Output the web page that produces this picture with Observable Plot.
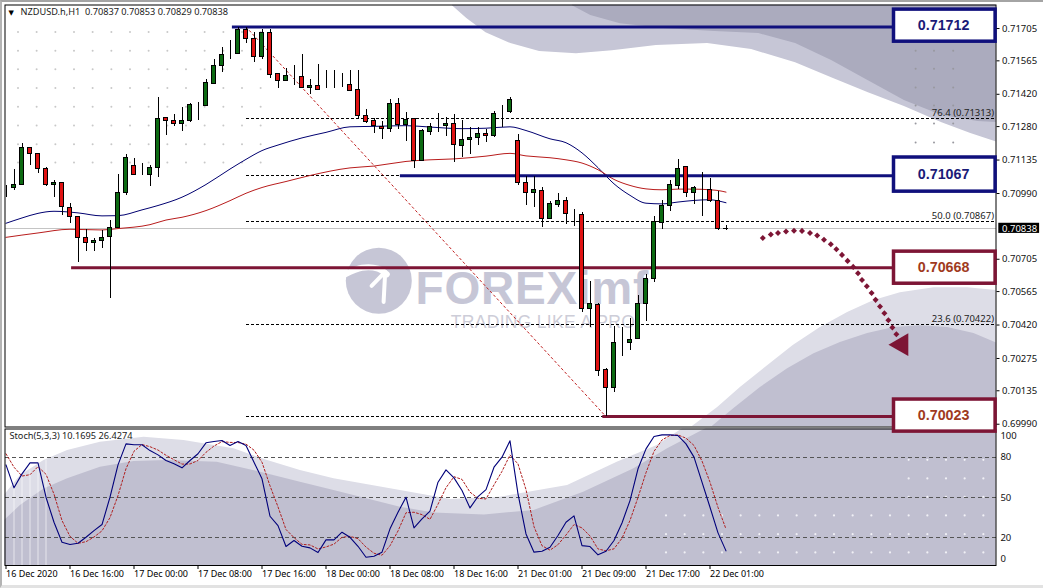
<!DOCTYPE html>
<html><head><meta charset="utf-8">
<style>
html,body{margin:0;padding:0;background:#fff;overflow:hidden}
#page{position:relative;width:1043px;height:588px;overflow:hidden;background:#fff}
#page svg{position:absolute;left:0;top:0;background:transparent;overflow:visible}
#chrome{position:absolute;left:0;top:0;width:1043px;height:588px;box-sizing:border-box;border-top:2px solid #a4a4a4;border-left:2px solid #b4b4b4;border-bottom:3px solid #e2e2e2}
.wm text{letter-spacing:0.75px}
.wm2 text{letter-spacing:0.3px}
</style>
<script src="https://cdn.jsdelivr.net/npm/d3@7"></script>
<script src="https://cdn.jsdelivr.net/npm/@observablehq/plot@0.6"></script>
</head><body><div id="page"><div id="chrome"></div></div>
<script>
// Prices are in units of 0.00001
const opens=[71013,71013,71026,71187,71161,71096,71027,71036,70927,70888,70797,70776,70783,70800,70839,70991,71109,71073,71069,71101,71317,71304,71290,71304,71371,71368,71465,71543,71593,71595,71699,71660,71580,71686,71507,71478,71497,71495,71446,71456,71458,71453,71459,71459,71440,71327,71305,71278,71270,71379,71286,71311,71133,71256,71292,71281,71292,71197,71223,71231,71249,71240,71341,71343,71218,71036,70993,71002,70880,70940,70958,70901,70898,70490,70508,70226,70148,70343,70342,70359,70512,70619,70863,70937,71023,71106,70992,71013,71006,70957,70837];
const highs=[71024,71096,71205,71190,71164,71104,71046,71036,70945,70888,70835,70793,70829,70873,71072,71161,71140,71122,71111,71404,71320,71332,71361,71378,71385,71482,71569,71621,71653,71710,71710,71686,71699,71699,71507,71530,71544,71591,71485,71549,71523,71523,71512,71523,71523,71353,71314,71301,71398,71400,71340,71314,71268,71295,71335,71321,71331,71307,71278,71275,71268,71344,71372,71405,71244,71065,71065,71015,70956,70989,70971,70919,70909,70609,70512,70230,70414,70411,70448,70548,70638,70891,70960,71047,71138,71107,71021,71080,71055,71000,70853];
const lows=[70971,71005,71023,71112,71075,71021,70971,70896,70861,70692,70740,70740,70751,70536,70839,70981,71069,71069,71021,71060,71242,71281,71260,71299,71306,71368,71465,71515,71569,71595,71642,71559,71569,71489,71446,71478,71460,71443,71419,71439,71447,71447,71450,71432,71310,71292,71252,71226,71256,71269,71217,71100,71129,71242,71256,71239,71126,71148,71159,71198,71213,71234,71278,71335,71023,70938,70931,70841,70880,70931,70857,70849,70473,70411,70199,70023,70129,70285,70311,70359,70437,70606,70836,70914,71008,70974,70943,70891,70953,70830,70829];
const closes=[71013,71027,71187,71161,71096,71026,71036,70930,70887,70797,70776,70786,70797,70839,70992,71144,71069,71073,71101,71313,71304,71290,71304,71374,71371,71469,71543,71591,71593,71699,71660,71580,71686,71504,71478,71499,71497,71446,71456,71439,71458,71453,71459,71436,71325,71301,71281,71269,71379,71286,71310,71129,71259,71278,71292,71292,71201,71223,71231,71249,71240,71335,71341,71396,71036,70993,71006,70880,70945,70958,70901,70901,70490,70512,70220,70148,70343,70343,70356,70512,70620,70865,70937,71026,71097,70993,71015,71013,70958,70836,70838];

const maBlueBars=[0,2,4,6,9,12,14,17,19,22,25,28,30,32,34,37,40,43,46,50,53,57,60,63,65,68,70,72,74,76,78,80,82,84,86,88,89,90];
const maBlueVals=[70861,70884,70904,70913,70906,70893,70894,70919,70938,70974,71029,71096,71138,71176,71200,71231,71255,71279,71281,71284,71278,71271,71273,71279,71263,71227,71210,71166,71102,71032,70982,70948,70945,70953,70960,70963,70958,70950];
const maRedBars=[0,4,8,12,14,18,20,22,25,28,30,32,35,38,43,46,50,53,56,60,63,65,68,70,72,74,76,78,80,82,84,86,88,89,90];
const maRedVals=[70800,70819,70835,70832,70838,70855,70875,70887,70916,70959,70991,71016,71042,71068,71101,71109,71129,71136,71140,71152,71164,71153,71145,71136,71122,71093,71051,71025,71010,71006,71009,71009,71006,71003,70996];

const stochK=[74.3,57.2,67.6,75.8,75.8,50.2,31.5,16.6,14.9,15.9,20.3,25.3,29.8,50.2,74.3,90.0,89.3,89.3,85.0,81.8,77.6,75.1,72.1,77.6,82.6,90.8,91.8,92.5,88.8,91.8,88.8,76.3,63.9,36.0,29.0,13.4,17.9,13.6,12.4,8.9,18.4,18.4,24.1,20.3,13.6,5.4,6.2,9.2,26.6,39.0,50.2,27.3,34.0,39.8,61.4,70.6,64.6,55.2,42.2,50.7,55.9,72.6,80.1,92.3,52.7,22.8,9.2,9.9,12.9,21.6,31.5,36.3,14.1,13.4,7.2,9.9,17.9,31.0,47.7,71.4,86.3,95.5,96.7,96.7,96.2,90.0,80.1,61.4,42.7,23.6,10.17];
const stochD=[82.6,72.6,66.0,67.0,73.0,67.3,52.5,32.8,21.0,15.8,17.0,20.5,25.1,35.0,51.4,71.5,84.5,89.5,87.9,85.4,81.5,78.2,74.9,75.0,77.6,83.7,88.4,91.7,91.1,91.0,89.8,85.3,76.3,58.7,43.0,26.1,20.1,15.0,14.6,11.6,13.1,15.2,20.3,21.0,19.3,13.0,8.4,6.9,14.0,25.0,38.6,39.0,37.2,33.7,45.0,57.3,65.5,63.5,54.0,49.4,48.9,59.4,69.5,81.7,75.0,55.9,28.2,14.0,10.7,14.8,22.0,29.8,27.3,21.3,11.6,10.2,11.7,19.6,32.9,50.0,68.5,84.4,92.9,96.3,96.6,94.3,88.8,77.2,61.4,42.6,26.43];

const priceTicks=[71705,71565,71420,71280,71135,70990,70705,70565,70420,70275,70135,69990];
const timeBars=[0,8,16,24,32,40,48,56,64,72,80,88];
const timeLabels=["16 Dec 2020","16 Dec 16:00","17 Dec 00:00","17 Dec 08:00","17 Dec 16:00","18 Dec 00:00","18 Dec 08:00","18 Dec 16:00","21 Dec 01:00","21 Dec 09:00","21 Dec 17:00","22 Dec 01:00"];

const levelPrices=[71712,71067,70668,70023];
const levelStarts=[28.3,49.3,8.2,74.6];
const levelLabels=["0.71712","0.71067","0.70668","0.70023"];
const levelColors=["#10107c","#10107c","#7d1535","#7d1535"];
const levelText=["#1a1a78","#1a1a78","#a03a1e","#a03a1e"];
const boxTops=[71787,71146,70738,70097];
const boxBottoms=[71648,70998,70599,69958];

const fibPrices=[71313,71067,70867,70422,70023];
const fibEnds=[123.75,49.3,123.75,123.75,75];
const fibLabels=["76.4 (0.71313)","50.0 (0.70867)","23.6 (0.70422)"];
const fibLabelPrices=[71313,70867,70422];

// watermark swooshes
const topLightBars=[55.8,57.6,60,63.1,66.7,71.3,75.8,81.3,87.7,93.2,98.7,103.2,107.8,112.3,117,120.6,124];
const topLightEdge=[71804,71748,71687,71640,71605,71596,71609,71631,71640,71614,71557,71492,71427,71367,71297,71250,71211];
const topDarkBars=[70.8,73.1,76.8,82.2,88.6,94.1,98.7,103.2,107.8,112.3,117,121.5,124];
const topDarkEdge=[71804,71761,71726,71705,71692,71683,71640,71566,71479,71393,71328,71302,71297];
const lowLightBars=[85.6,88.96,91.8,95.2,98.4,101.8,105.2,108.5,111.8,116,120.2,124];
const lowLightEdge=[69975,70062,70149,70244,70331,70409,70474,70526,70560,70582,70582,70569];
const lowDarkBars=[88.1,91,94.3,97.7,101,104.3,107.7,111,114.3,117.7,121,124];
const lowDarkEdge=[69975,70058,70149,70231,70296,70344,70383,70409,70417,70409,70383,70339];
const stLightBars=[-0.2,1.8,4.75,7.7,11.8,17.25,22.25,28.5,32.7,36.8,41,49.3,55.6,61.8,70.2,76.4,81.4,84.75,124];
const stLightEdge=[51.5,66.4,77.6,85,91.3,95,92.5,86.3,77.6,70.1,63.9,55.2,48.5,50.2,58.9,76.3,88.8,102,102];
const stDarkBars=[-0.2,1.8,4.75,7.7,11.8,16,20.2,26.4,32.7,36.8,41,49.3,53.5,59.8,66,72.2,78.5,82.7,87.7,124];
const stDarkEdge=[32.8,44,56.4,63.9,72.6,76.8,77.6,76.3,67.6,61.4,55.2,42.7,38.5,37,40.3,53.9,71.4,86.3,102,102];
const stripeBars=[1,2,3,4,5];
const stripeTops=[60,66,70,75,78];

// dot grids
const dotsLeftBars=[1.5,3.83,6.17,8.5,10.83,13.17,15.5,17.83,20.17,22.5,24.83,27.17,29.5,31.83];
const dotsLeftRows=[71690,71609,71528,71447,71366,71285,71204,71124];
const dotsRightBars=[113.7,116,118.4];
const dotsRightRows=[71609,71531,71449,71371,71293,71211];
const stDotBars=[82.5,84.83,87.17,89.5,91.83,94.17,96.5,98.83,101.17,103.5,105.83,108.17,110.5,112.83,115.17,117.5,119.83,122.17];
const stDotRows=[36.6,22.6,9];
const stDotBarsUpper=[112.83,115.17,117.5,119.83,122.17];
const stDotRowsUpper=[78.1,64.2,50.5];

// forecast arrow
const arrowBars=[94.6,95.6,96.5,97.5,98.5,99.5,100.5,101.4,102.25,103.1,103.8,104.5,105.2,105.9,106.5,107,107.6,108.2,108.7,109.25,109.8,110.3,110.8,111.3];
const arrowPrices=[70797,70812,70819,70825,70829,70828,70819,70808,70790,70770,70748,70724,70698,70672,70644,70615,70588,70559,70529,70500,70471,70441,70409,70380];

const FONT="'Noto Sans',sans-serif";
const W=1043,H=588;
const XD=[-0.125,123.75];
const candles=opens.map((o,i)=>({i,o,h:highs[i],l:lows[i],c:closes[i]}));
const zip=(xs,ys)=>xs.map((x,k)=>({x,y:ys[k]}));
const GREEN="#0c6a12",RED="#e01212";
const candleFill=d=>Math.abs(d.c-d.o)<=1?"#000":(d.c>d.o?GREEN:RED);
const fiveDec=v=>(v/1e5).toFixed(5);

const main=Plot.plot({
  width:W,height:H,marginLeft:4.5,marginRight:W-995.5,marginTop:4.5,marginBottom:H-426.5,
  style:{background:"transparent",fontFamily:FONT},
  x:{domain:XD,axis:null},
  y:{domain:[69978,71807],axis:null},
  marks:[
    Plot.area(zip(topLightBars,topLightEdge),{x1:"x",y1:71807,y2:"y",fill:"#c6c6d6",clip:true}),
    Plot.area(zip(topDarkBars,topDarkEdge),{x1:"x",y1:71807,y2:"y",fill:"#ababbe",clip:true}),
    Plot.area(zip(lowLightBars,lowLightEdge),{x1:"x",y1:69978,y2:"y",fill:"#dddde7",clip:true}),
    Plot.area(zip(lowDarkBars,lowDarkEdge),{x1:"x",y1:69978,y2:"y",fill:"#c0bfd0",clip:true}),
    Plot.dot(d3.cross(dotsLeftBars,dotsLeftRows),{x:"0",y:"1",r:1,fill:"#c8c8c8"}),
    Plot.dot(d3.cross(dotsRightBars,dotsRightRows),{x:"0",y:"1",r:1,fill:"#98989f"}),
    // watermark
    Plot.dot([{x:46.6,y:70612}],{x:"x",y:"y",r:33,fill:"#c6c6d6"}),
    Plot.line(zip([42.4,44.5,46.5,47.6],[70640,70668,70664,70640]),{x:"x",y:"y",stroke:"#fff",strokeWidth:6,curve:"catmull-rom"}),
    Plot.line(zip([45.7,47.4,47.2],[70590,70650,70520]),{x:"x",y:"y",stroke:"#fff",strokeWidth:4}),
    Plot.text(["FOREXimf"],{x:[51.2],y:[70513],text:d=>d,textAnchor:"start",lineAnchor:"bottom",fontSize:46,fontWeight:"bold",fontFamily:"'Liberation Sans'",fill:"#c6c6d6",className:"wm"}),
    Plot.text(["TRADING LIKE A PRO"],{x:[55.6],y:[70405],text:d=>d,textAnchor:"start",lineAnchor:"bottom",fontSize:17.5,fontFamily:"'Liberation Sans'",fill:"#cdcdd8",className:"wm2"}),
    // current price line
    Plot.ruleY([70838],{stroke:"#c4c4c4",strokeWidth:1,shapeRendering:"crispEdges"}),
    // fibonacci levels
    Plot.ruleY(fibPrices.map((p,k)=>({p,e:fibEnds[k]})),{y:"p",x1:30,x2:"e",stroke:"#000",strokeWidth:1,strokeDasharray:"3,2",shapeRendering:"crispEdges"}),
    Plot.text(fibLabels,{x:fibLabels.map(()=>123.5),y:fibLabelPrices,text:d=>d,textAnchor:"end",dy:-6,fontSize:9.5,fill:"#222"}),
    // fibonacci trend line
    Plot.line(zip([30,75],[71712,70023]),{x:"x",y:"y",stroke:"#c02020",strokeWidth:1,strokeDasharray:"2,3"}),
    // moving averages
    Plot.line(zip(maBlueBars,maBlueVals),{x:"x",y:"y",stroke:"#000070",strokeWidth:1,curve:"monotone-x",clip:true}),
    Plot.line(zip(maRedBars,maRedVals),{x:"x",y:"y",stroke:"#b81c1c",strokeWidth:1,curve:"monotone-x",clip:true}),
    // horizontal levels
    Plot.ruleY(levelPrices.map((p,k)=>({p,s:levelStarts[k],c:levelColors[k]})),{y:"p",x1:"s",x2:111,stroke:"c",strokeWidth:3}),
    // candles
    Plot.ruleX(candles,{x:"i",y1:"l",y2:"h",stroke:"#000",strokeWidth:1,clip:true,shapeRendering:"crispEdges"}),
    Plot.rect(candles,{x1:d=>d.i-0.25,x2:d=>d.i+0.25,y1:"o",y2:"c",fill:candleFill,stroke:"#000",strokeWidth:1,clip:true,shapeRendering:"crispEdges"}),
    // arrow
    Plot.dot(zip(arrowBars,arrowPrices),{x:"x",y:"y",r:2.4,symbol:"square",fill:"#7d1535",rotate:45}),
    Plot.dot([{x:111.96,y:70335}],{x:"x",y:"y",r:8.5,symbol:"triangle",rotate:-90,fill:"#7d1535"}),
    Plot.frame({stroke:"#000",strokeWidth:1}),
    // level boxes
    Plot.rect(levelPrices.map((p,k)=>({t:boxTops[k],b:boxBottoms[k],c:levelColors[k]})),{x1:111,x2:123.7,y1:"b",y2:"t",fill:"#fff",stroke:"c",strokeWidth:3.5}),
    Plot.text(levelLabels,{x:levelLabels.map(()=>117.2),y:levelPrices.map((p,k)=>(boxTops[k]+boxBottoms[k])/2),text:d=>d,fontSize:14.3,fontWeight:"bold",fontFamily:"'Liberation Sans'",fill:(d,k)=>levelText[k]}),
    // price axis
    Plot.axisY(priceTicks,{anchor:"right",tickSize:3,tickPadding:3,fontSize:9.5,tickFormat:fiveDec,label:null,fill:"#111",color:"#000"}),
    Plot.rect([{a:70861,b:70817}],{x1:124.1,x2:129.2,y1:"b",y2:"a",fill:"#000"}),
    Plot.text(["0.70838"],{x:[124.5],y:[70838],text:d=>d,textAnchor:"start",fontSize:9.5,fill:"#fff"}),
    // header
    Plot.text(["▼"],{frameAnchor:"top-left",dx:3.5,dy:5,fontSize:7,fill:"#000",text:d=>d,fontFamily:"'DejaVu Sans'"}),
    Plot.text(["NZDUSD.h,H1  0.70837 0.70853 0.70829 0.70838"],{frameAnchor:"top-left",dx:15.5,dy:3,text:d=>d,fontSize:9.2,fill:"#222"})
  ]
});

const stoch=Plot.plot({
  width:W,height:H,marginLeft:4.5,marginRight:W-995.5,marginTop:428.5,marginBottom:H-565,
  style:{background:"transparent",fontFamily:FONT},
  x:{domain:XD,axis:null},
  y:{domain:[-0.75,101.1],axis:null},
  marks:[
    Plot.area(zip(stLightBars,stLightEdge),{x1:"x",y1:-0.75,y2:"y",fill:"#dddde7",clip:true}),
    Plot.area(zip(stDarkBars,stDarkEdge),{x1:"x",y1:-0.75,y2:"y",fill:"#c0bfd0",clip:true}),
    Plot.ruleX(stripeBars.map((b,k)=>({b,t:stripeTops[k]})),{x:"b",y1:-0.75,y2:"t",stroke:"#fff",strokeOpacity:0.6,strokeWidth:1}),
    Plot.dot(d3.cross(stDotBars,stDotRows),{x:"0",y:"1",r:1.1,fill:"#f0f0f5"}),
    Plot.dot(d3.cross(stDotBarsUpper,stDotRowsUpper),{x:"0",y:"1",r:1.1,fill:"#f0f0f5"}),
    Plot.ruleY([80,50,20],{stroke:"#555",strokeWidth:1,strokeDasharray:"4,3",shapeRendering:"crispEdges"}),
    Plot.line(stochD.map((v,i)=>({i,v})),{x:"i",y:"v",stroke:"#b02020",strokeWidth:1,strokeDasharray:"2,2"}),
    Plot.line(stochK.map((v,i)=>({i,v})),{x:"i",y:"v",stroke:"#00007a",strokeWidth:1.1}),
    Plot.frame({stroke:"#000",strokeWidth:1}),
    Plot.text(["100","80","50","20","0"],{x:[124.3,124.3,124.3,124.3,124.3],y:[95.7,80,50,20,4],text:d=>d,textAnchor:"start",fontSize:9.5,fill:"#111"}),
    Plot.text(["Stoch(5,3,3) 10.1695 26.4274"],{frameAnchor:"top-left",dx:4.5,dy:3,text:d=>d,fontSize:9.2,fill:"#222"}),
    Plot.axisX(timeBars,{anchor:"bottom",tickSize:4,tickPadding:1,textAnchor:"start",fontSize:9,label:null,color:"#000",tickFormat:(d,k)=>timeLabels[timeBars.indexOf(d)]})
  ]
});
const page=document.getElementById("page");
page.appendChild(stoch);
page.appendChild(main);
</script></body></html>
